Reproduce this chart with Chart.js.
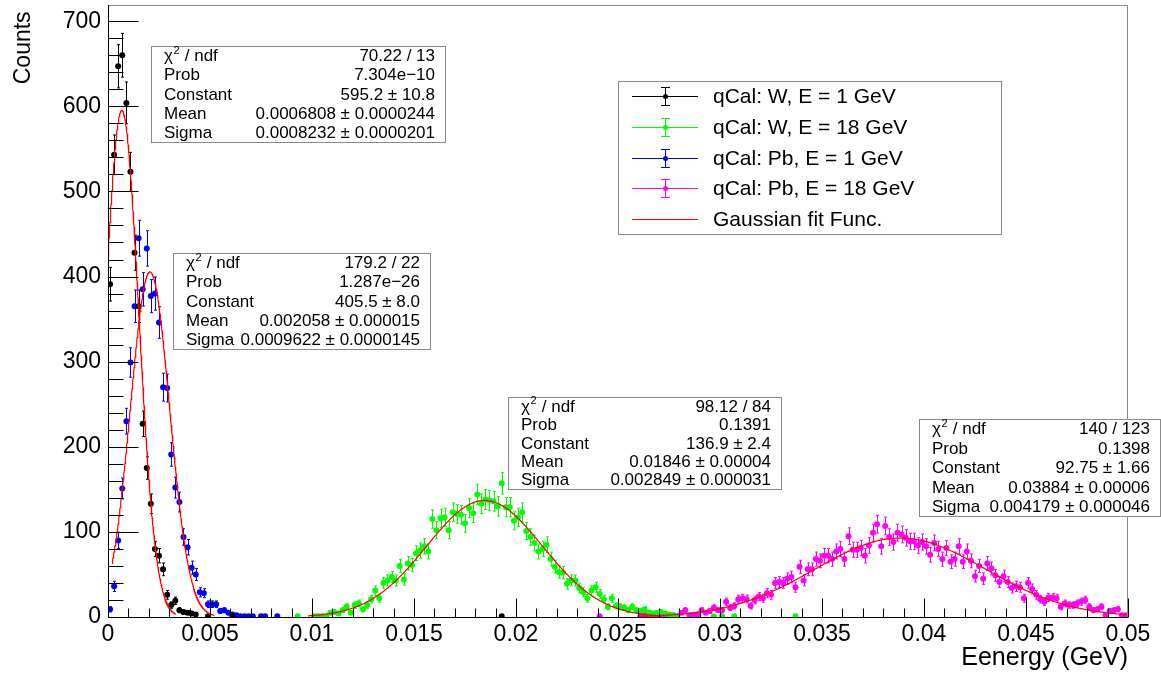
<!DOCTYPE html>
<html>
<head>
<meta charset="utf-8">
<title>qCal energy deposit</title>
<script src="https://cdn.jsdelivr.net/npm/chart.js@4.4.0/dist/chart.umd.min.js"></script>
<style>
  html, body { margin: 0; padding: 0; background: #fff; }
  #wrap { position: relative; width: 1161px; height: 674px; }
</style>
</head>
<body>
<div id="wrap"><canvas id="energyChart" width="1161" height="674"></canvas></div>
<script>
// ----- DATA -----
// all four histograms share the same binning (250 bins between 0 and 0.05 GeV)
const BIN_WIDTH = 0.0002;

// qCal: W, E = 1 GeV
const wLowStart = 0.0001;
const wLowCounts = [391, 543, 647, 660, 604, 523, 428, 365, 227, 175, 133, 80, 72, 56, 26, 14, 19, 8, 6, 5, 4, 3];
const wLowStrayX = [0.0049, 0.0061, 0.0193];
const wLowStrayY = [1, 1, 1];

// qCal: W, E = 18 GeV
const wHighStart = 0.0093;
const wHighCounts = [1, null, null, null, 1, 1, 1, 1, 5, 6,
  4, 8, 12, 5, 14, 16, 9, 14, 21, 31,
  22, 40, 43, 47, 43, 60, 44, 63, 61, 75,
  78, 83, 77, 115, 102, 116, 117, 102, 123, 121,
  120, 110, 128, 122, 144, 133, 138, 137, 136, 130,
  157, 129, 129, 113, 117, 123, 101, 94, 87, 77,
  80, 85, 68, 59, 53, 52, 39, 43, 43, 34,
  29, 22, 31, 35, 27, 21, 12, 22, 13, 12,
  11, 8, 12, 8, 7, 9, 5, 4, 5, 6,
  4, 3, 2, 1];
const wHighStrayX = [0.0297, 0.0301, 0.0307, 0.0337];
const wHighStrayY = [1, 1, 1, 1];

// qCal: Pb, E = 1 GeV
const pbLowStart = 0.0001;
const pbLowCounts = [9, 36, 90, 151, 230, 299, 365, 445, 385, 433,
  377, 380, 346, 270, 269, 191, 152, 135, 94, 82,
  58, 50, 29, 28, 15, 15, 15, 7, 8, 5,
  3, 2, 1, 1, 1, 1];
const pbLowStrayX = [0.0075, 0.0077, 0.0083];
const pbLowStrayY = [1, 1, 1];

// qCal: Pb, E = 18 GeV
const pbHighStart = 0.0241;
const pbHighCounts = [1, null, null, null, null, null, null, null, null, null,
  1, 2, 1, 2, 2, 3, 2, 2, 2, 1,
  5, 8, 2, 2, 3, 8, 5, 7, 11, 8,
  8, 18, 11, 13, 21, 22, 21, 13, 20, 24,
  22, 28, 26, 40, 41, 40, 45, 47, 35, 59,
  43, 56, 56, 68, 66, 72, 72, 68, 77, 80,
  68, 95, 79, 79, 81, 72, 84, 99, 109, 83,
  107, 94, 88, 99, 97, 93, 89, 89, 84, 88,
  83, 73, 87, 80, 68, 81, 65, 68, 83, 65,
  77, 66, 48, 60, 45, 63, 57, 49, 41, 48,
  41, 34, 36, 35, 22, 40, 33, 26, 21, 18,
  23, 23, 22, 12, 16, 14, 14, 16, 18, 20,
  12, 8, 9, 12, 2, 7, 8, 9, 2, 2];
const pbHighStrayX = [];
const pbHighStrayY = [];

// Gaussian fit results, same order as the histograms: W 1 GeV, Pb 1 GeV, W 18 GeV, Pb 18 GeV
const fitConstant = [595.2, 405.5, 136.9, 92.75];
const fitConstantErr = ['10.8', '8.0', '2.4', '1.66'];
const fitMean = [0.0006808, 0.002058, 0.01846, 0.03884];
const fitMeanErr = ['0.0000244', '0.000015', '0.00004', '0.00006'];
const fitSigma = [0.0008232, 0.0009622, 0.002849, 0.004179];
const fitSigmaErr = ['0.0000201', '0.0000145', '0.000031', '0.000046'];
const fitChi2 = ['70.22', '179.2', '98.12', '140'];
const fitNdf = [13, 22, 84, 123];
const fitProb = ['7.304e\u221210', '1.287e\u221226', '0.1391', '0.1398'];
const fitRangeLo = [0, 0.0002, 0.0098, 0.0261];
const fitRangeHi = [0.0033, 0.0052, 0.027, 0.05];

const statLabels = ['Prob', 'Constant', 'Mean', 'Sigma'];
const legendLabels = ['qCal: W, E = 1 GeV', 'qCal: W, E = 18 GeV', 'qCal: Pb, E = 1 GeV', 'qCal: Pb, E = 18 GeV', 'Gaussian fit Func.'];

const xTickStep = 0.005;
const yTickStep = 100;

// ----- HELPERS -----
const FONT = '"Liberation Sans", Arial, Helvetica, sans-serif';

function histPoints(start, counts, strayX, strayY) {
    const pts = [];
    counts.forEach((c, i) => {
        if (c === null) return;
        pts.push({ x: start + i * BIN_WIDTH, y: c });
    });
    strayX.forEach((x, i) => pts.push({ x: x, y: strayY[i] }));
    return pts;
}

// evaluates the fitted gaussian inside its fit range
function fitCurve(k) {
    const pts = [];
    const n = 300;
    for (let i = 0; i <= n; i++) {
        const x = fitRangeLo[k] + (fitRangeHi[k] - fitRangeLo[k]) * i / n;
        const z = (x - fitMean[k]) / fitSigma[k];
        pts.push({ x: x, y: fitConstant[k] * Math.exp(-0.5 * z * z) });
    }
    return pts;
}

function histDataset(label, color, pts) {
    return {
        type: 'scatter',
        label: label,
        data: pts,
        yErr: pts.map(p => Math.sqrt(p.y)),
        backgroundColor: color,
        borderColor: color,
        pointRadius: 3,
        pointBorderWidth: 0,
        showLine: false,
        order: 2
    };
}

function fitDataset(k) {
    return {
        type: 'scatter',
        label: 'fit' + k,
        data: fitCurve(k),
        borderColor: '#ff0000',
        borderWidth: 1.2,
        pointRadius: 0,
        showLine: true,
        fill: false,
        order: 0
    };
}

// ----- PLUGINS -----
// vertical error bars (poisson) under the markers
const errorBars = {
    id: 'errorBars',
    beforeDatasetsDraw(chart) {
        const { ctx, scales: { x, y } } = chart;
        ctx.save();
        ctx.lineWidth = 1;
        chart.data.datasets.forEach(ds => {
            if (!ds.yErr) return;
            ctx.strokeStyle = ds.borderColor;
            ctx.beginPath();
            ds.data.forEach((p, i) => {
                const px = Math.round(x.getPixelForValue(p.x)) + 0.5;
                const top = y.getPixelForValue(p.y + ds.yErr[i]);
                const bot = y.getPixelForValue(Math.max(0, p.y - ds.yErr[i]));
                ctx.moveTo(px, top);
                ctx.lineTo(px, bot);
                ctx.moveTo(px - 1.5, top);
                ctx.lineTo(px + 1.5, top);
                ctx.moveTo(px - 1.5, bot);
                ctx.lineTo(px + 1.5, bot);
            });
            ctx.stroke();
        });
        ctx.restore();
    }
};

// ROOT style frame with inner tick marks
const frameTicks = {
    id: 'frameTicks',
    afterDatasetsDraw(chart) {
        const { ctx, chartArea: a, scales: { x, y } } = chart;
        ctx.save();
        ctx.lineWidth = 1;
        ctx.strokeStyle = '#8a8a8a';
        ctx.strokeRect(a.left + 0.5, a.top + 0.5, a.right - a.left - 1, a.bottom - a.top);
        ctx.strokeStyle = '#000';
        ctx.beginPath();
        const yb = Math.round(a.bottom) + 0.5;
        ctx.moveTo(a.left, yb);
        ctx.lineTo(a.right, yb);
        const xl = Math.round(a.left) + 0.5;
        ctx.moveTo(xl, a.top);
        ctx.lineTo(xl, a.bottom);
        const xMinor = xTickStep / 5;
        for (let i = 0; i * xMinor <= x.max + 1e-9; i++) {
            const px = Math.round(x.getPixelForValue(i * xMinor)) + 0.5;
            const len = i % 5 === 0 ? 19 : 9;
            ctx.moveTo(px, yb);
            ctx.lineTo(px, yb - len);
        }
        const yMinor = yTickStep / 5;
        for (let i = 0; i * yMinor <= y.max; i++) {
            const py = Math.round(y.getPixelForValue(i * yMinor)) + 0.5;
            const len = i % 5 === 0 ? 30 : 15;
            ctx.moveTo(xl, py);
            ctx.lineTo(xl + len, py);
        }
        ctx.stroke();
        ctx.restore();
    }
};

// fit parameter boxes
const statBoxes = [
    { k: 0, left: 151, top: 46, right: 445, bottom: 142 },
    { k: 1, left: 173, top: 253, right: 430, bottom: 349 },
    { k: 2, left: 508, top: 397, right: 781, bottom: 489 },
    { k: 3, left: 919, top: 419, right: 1160, bottom: 516 }
];

function drawChiLabel(ctx, x, y) {
    ctx.textAlign = 'left';
    ctx.font = '17px ' + FONT;
    ctx.fillText('\u03c7', x, y);
    let w = ctx.measureText('\u03c7').width;
    ctx.font = '11px ' + FONT;
    ctx.fillText('2', x + w + 0.5, y - 6);
    w += ctx.measureText('2').width + 1;
    ctx.font = '17px ' + FONT;
    ctx.fillText(' / ndf', x + w, y);
}

const fitStats = {
    id: 'fitStats',
    afterDraw(chart) {
        const ctx = chart.ctx;
        ctx.save();
        statBoxes.forEach(b => {
            const k = b.k;
            ctx.fillStyle = '#fff';
            ctx.fillRect(b.left, b.top, b.right - b.left, b.bottom - b.top);
            ctx.strokeStyle = '#8a8a8a';
            ctx.lineWidth = 1;
            ctx.strokeRect(b.left + 0.5, b.top + 0.5, b.right - b.left, b.bottom - b.top);
            const values = [
                fitChi2[k] + ' / ' + fitNdf[k],
                fitProb[k],
                fitConstant[k] + ' \u00b1 ' + fitConstantErr[k],
                fitMean[k] + ' \u00b1 ' + fitMeanErr[k],
                fitSigma[k] + ' \u00b1 ' + fitSigmaErr[k]
            ];
            const rowH = (b.bottom - b.top) / 5;
            ctx.fillStyle = '#000';
            ctx.textBaseline = 'middle';
            for (let r = 0; r < 5; r++) {
                const cy = b.top + rowH * (r + 0.5) + 1;
                if (r === 0) {
                    drawChiLabel(ctx, b.left + 13, cy);
                } else {
                    ctx.font = '17px ' + FONT;
                    ctx.textAlign = 'left';
                    ctx.fillText(statLabels[r - 1], b.left + 13, cy);
                }
                ctx.font = '17px ' + FONT;
                ctx.textAlign = 'right';
                ctx.fillText(values[r], b.right - 10, cy);
            }
        });
        ctx.restore();
    }
};

// legend box with ROOT style error bar markers
const legendColors = ['#000000', '#00ff00', '#0000ff', '#ff00ff', '#ff0000'];
const rootLegend = {
    id: 'rootLegend',
    afterDraw(chart) {
        const ctx = chart.ctx;
        const box = { left: 618, top: 81, right: 1001, bottom: 234 };
        ctx.save();
        ctx.fillStyle = '#fff';
        ctx.fillRect(box.left, box.top, box.right - box.left, box.bottom - box.top);
        ctx.strokeStyle = '#8a8a8a';
        ctx.lineWidth = 1;
        ctx.strokeRect(box.left + 0.5, box.top + 0.5, box.right - box.left, box.bottom - box.top);
        const rowH = (box.bottom - box.top) / legendLabels.length;
        legendLabels.forEach((label, i) => {
            const cy = Math.round(box.top + rowH * (i + 0.5)) + 0.5;
            const col = legendColors[i];
            ctx.strokeStyle = col;
            ctx.lineWidth = 1;
            ctx.beginPath();
            ctx.moveTo(632, cy);
            ctx.lineTo(698, cy);
            if (i < 4) {
                ctx.moveTo(665.5, cy - 9);
                ctx.lineTo(665.5, cy + 9);
                ctx.moveTo(661, cy - 9);
                ctx.lineTo(670, cy - 9);
                ctx.moveTo(661, cy + 9);
                ctx.lineTo(670, cy + 9);
            }
            ctx.stroke();
            if (i < 4) {
                ctx.fillStyle = col;
                ctx.beginPath();
                ctx.arc(665.5, cy, 2.5, 0, Math.PI * 2);
                ctx.fill();
            }
            ctx.fillStyle = '#000';
            ctx.font = '21px ' + FONT;
            ctx.textAlign = 'left';
            ctx.textBaseline = 'middle';
            ctx.fillText(label, 713, cy + 1);
        });
        ctx.restore();
    }
};

// ----- CHART -----
const datasets = [
    fitDataset(0), fitDataset(1), fitDataset(2), fitDataset(3),
    histDataset(legendLabels[0], '#000000', histPoints(wLowStart, wLowCounts, wLowStrayX, wLowStrayY)),
    histDataset(legendLabels[1], '#00ff00', histPoints(wHighStart, wHighCounts, wHighStrayX, wHighStrayY)),
    histDataset(legendLabels[2], '#0000ff', histPoints(pbLowStart, pbLowCounts, pbLowStrayX, pbLowStrayY)),
    histDataset(legendLabels[3], '#ff00ff', histPoints(pbHighStart, pbHighCounts, pbHighStrayX, pbHighStrayY))
];

new Chart(document.getElementById('energyChart'), {
    type: 'scatter',
    data: { datasets: datasets },
    options: {
        responsive: false,
        animation: false,
        events: [],
        layout: { padding: { top: 5, right: 33, left: 0, bottom: 0 } },
        plugins: {
            legend: { display: false },
            tooltip: { enabled: false }
        },
        scales: {
            x: {
                type: 'linear',
                min: 0,
                max: 0.05,
                afterFit(scale) {
                    scale.height = 57;
                    scale.paddingLeft = 0;
                    scale.paddingRight = 0;
                },
                grid: { display: false, drawTicks: false },
                border: { display: false },
                ticks: {
                    stepSize: xTickStep,
                    includeBounds: false,
                    maxRotation: 0,
                    autoSkip: false,
                    padding: 4,
                    color: '#000',
                    font: { family: FONT, size: 23 },
                    callback: v => String(+v.toFixed(4))
                },
                title: {
                    display: true,
                    text: 'Eenergy (GeV)',
                    align: 'end',
                    color: '#000',
                    font: { family: FONT, size: 25 },
                    padding: { top: 0, bottom: 1 }
                }
            },
            y: {
                type: 'linear',
                min: 0,
                max: 719,
                afterFit(scale) {
                    scale.width = 108;
                    scale.paddingTop = 0;
                    scale.paddingBottom = 0;
                },
                grid: { display: false, drawTicks: false },
                border: { display: false },
                ticks: {
                    stepSize: yTickStep,
                    includeBounds: false,
                    autoSkip: false,
                    padding: 7,
                    color: '#000',
                    font: { family: FONT, size: 23 }
                },
                title: {
                    display: true,
                    // trailing space keeps the title clear of the frame corner
                    text: 'Counts ',
                    align: 'end',
                    color: '#000',
                    font: { family: FONT, size: 23 },
                    padding: { top: 10, bottom: 0 }
                }
            }
        }
    },
    plugins: [errorBars, frameTicks, fitStats, rootLegend]
});
</script>
</body>
</html>
